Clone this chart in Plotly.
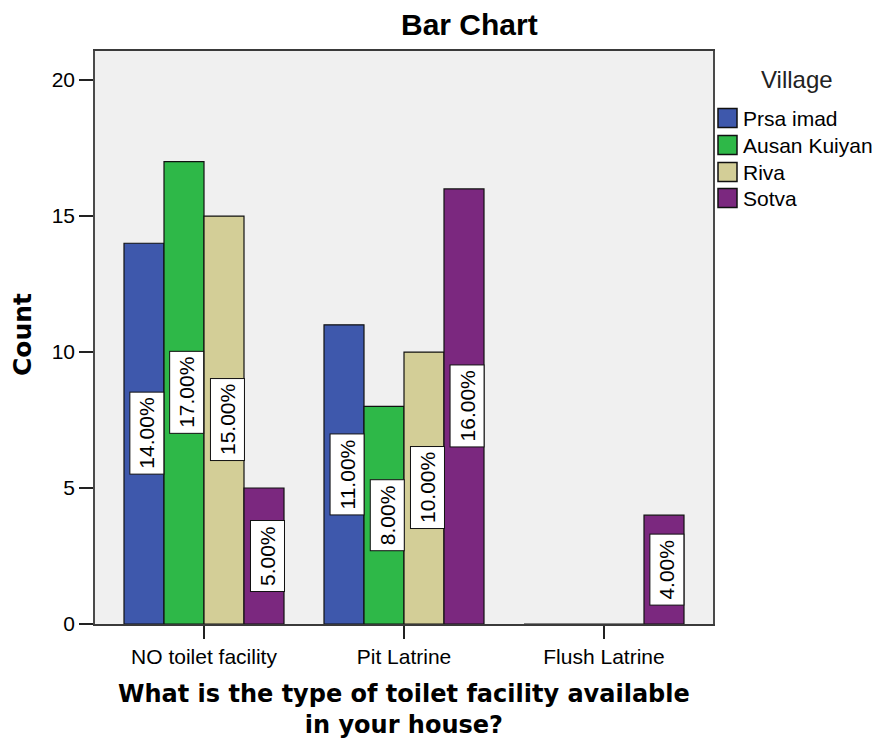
import plotly.graph_objects as go

# Counts of households by toilet facility type, per village
categories = ["NO toilet facility", "Pit Latrine", "Flush Latrine"]
villages = ["Prsa imad", "Ausan Kuiyan", "Riva", "Sotva"]
prsa_imad = [14, 11, 0]
ausan_kuiyan = [17, 8, 0]
riva = [15, 10, 0]
sotva = [5, 16, 4]
colors = ["#3E58AC", "#2EB848", "#D3CE97", "#7B287F"]

series = [prsa_imad, ausan_kuiyan, riva, sotva]
total = sum(sum(s) for s in series)

# plot-area geometry in pixels (figure is 880 x 743)
W, H = 880, 743
L, R, T, B = 95, 167, 51, 119
PW, PH = W - L - R, H - T - B
x_range = [-0.545, 2.545]
y_range = [0, 21.07]
bar_gap = 0.2
n = len(series)


def xp(px):
    return (px - L) / PW


def yp(py):
    return (H - B - py) / PH


fig = go.Figure()
for name, vals, col in zip(villages, series, colors):
    fig.add_trace(go.Bar(
        name=name, x=categories, y=vals,
        marker=dict(color=col, line=dict(color="#111111", width=1.2)),
        showlegend=False, hoverinfo="skip",
    ))

# percentage labels: rotated white boxes at half bar height
px_per_cat = PW / (x_range[1] - x_range[0])
bar_px = px_per_cat * (1 - bar_gap) / n
annotations = []
for i, vals in enumerate(series):
    for cat, v in zip(categories, vals):
        if v <= 0:
            continue
        annotations.append(dict(
            x=cat, y=v / 2, xref="x", yref="y",
            text=f"{v / total * 100:.2f}%", showarrow=False,
            textangle=-90, xshift=(i - (n - 1) / 2) * bar_px + 3,
            font=dict(family="Liberation Sans, Arial", size=21, color="#000000"),
            bgcolor="#FFFFFF", bordercolor="#111111", borderwidth=1, borderpad=5,
        ))

# chart title
annotations.append(dict(
    x=xp(470), y=yp(25), xref="paper", yref="paper", showarrow=False,
    text="<b>Bar Chart</b>", xanchor="center", yanchor="middle",
    font=dict(family="Liberation Sans, Arial", size=30, color="#000000"),
))
# axis titles
annotations.append(dict(
    x=xp(404), y=yp(709), xref="paper", yref="paper", showarrow=False,
    text="<b>What is the type of toilet facility available<br>in your house?</b>",
    xanchor="center", yanchor="middle", align="center",
    font=dict(family="DejaVu Sans", size=24, color="#000000"),
))
annotations.append(dict(
    x=xp(22), y=yp(335), xref="paper", yref="paper", showarrow=False,
    text="<b>Count</b>", textangle=-90, xanchor="center", yanchor="middle",
    font=dict(family="DejaVu Sans", size=25, color="#000000"),
))

# legend drawn beside the plot
annotations.append(dict(
    x=xp(797), y=yp(80), xref="paper", yref="paper", showarrow=False,
    text="Village", xanchor="center", yanchor="middle",
    font=dict(family="Liberation Sans, Arial", size=24, color="#222222"),
))
shapes = []
row_y = [118, 145, 172, 198]
for name, col, ry in zip(villages, colors, row_y):
    shapes.append(dict(
        type="rect", xref="paper", yref="paper",
        x0=xp(718), x1=xp(737), y0=yp(ry - 9.5), y1=yp(ry + 9.5),
        fillcolor=col, line=dict(color="#111111", width=1.5),
    ))
    annotations.append(dict(
        x=xp(741), y=yp(ry), xref="paper", yref="paper", showarrow=False,
        text=name, xanchor="left", yanchor="middle",
        font=dict(family="Liberation Sans, Arial", size=21, color="#000000"),
    ))

fig.update_layout(
    width=W, height=H,
    margin=dict(l=L, r=R, t=T, b=B, pad=0),
    barmode="group", bargap=bar_gap, bargroupgap=0,
    paper_bgcolor="#FFFFFF", plot_bgcolor="#F0F0F0",
    annotations=annotations, shapes=shapes,
    xaxis=dict(
        range=x_range, showgrid=False, zeroline=False, layer="above traces",
        showline=True, mirror=True, linecolor="#3A3A3A", linewidth=1.5,
        ticks="outside", ticklen=13, tickwidth=1.5, tickcolor="#222222",
        tickfont=dict(family="Liberation Sans, Arial", size=21, color="#000000"),
    ),
    yaxis=dict(
        range=y_range, showgrid=False, zeroline=False,
        tickvals=[0, 5, 10, 15, 20],
        showline=True, mirror=True, linecolor="#4A4A4A", linewidth=1.5,
        ticks="outside", ticklen=14, tickwidth=1.5, tickcolor="#222222",
        tickfont=dict(family="Liberation Sans, Arial", size=21, color="#000000"),
    ),
)

fig.write_html("out.html")
